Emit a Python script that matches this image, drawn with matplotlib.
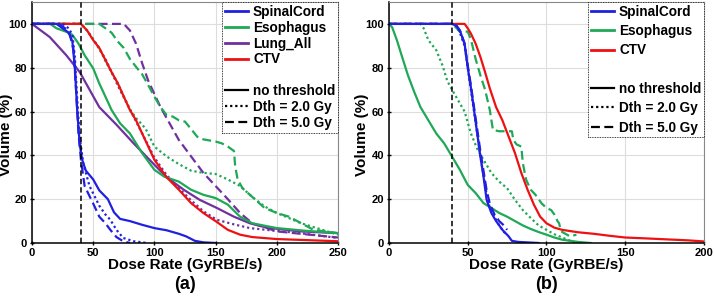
import numpy as np
from matplotlib import pyplot as plt
from matplotlib.lines import Line2D

plt.rcParams['font.family'] = ['Liberation Sans', 'DejaVu Sans']
plt.rcParams['font.weight'] = 'bold'

BLUE = '#2020e0'
GREEN = '#1fa855'
PURPLE = '#7030a0'
RED = '#ee1111'

# ---- panel (a) ----
a_cord_x = [0, 20, 25, 30, 33, 35, 37, 39, 41, 44, 50, 55, 62, 67, 72, 80, 90, 100, 110, 120, 126, 133, 140, 150]
a_cord_y = [100, 100, 98, 96, 92, 80, 60, 45, 38, 33, 29, 24, 20, 14, 11, 10, 8.3, 6.8, 5.8, 4.2, 3, 1, 0.3, 0]
a_cord2_x = [0, 25, 30, 33, 35, 37, 39, 42, 47, 55, 60, 64, 69, 74.5, 83, 94]
a_cord2_y = [100, 100, 98, 95, 85, 65, 48, 36, 26, 17, 13, 10.6, 6, 2.3, 0.8, 0]
a_cord5_x = [0, 22, 27, 31, 34, 36, 38, 40, 43, 50, 55, 60, 64, 69, 74.5, 80]
a_cord5_y = [100, 100, 98, 95, 88, 70, 50, 38, 26, 18, 12, 9, 6, 2.7, 0.8, 0]

a_eso_x = [0, 15, 20, 28, 33, 38, 43, 50, 55, 60, 65, 72, 80, 90, 100, 108, 120, 130, 140, 150, 160, 170, 180, 200, 225, 250]
a_eso_y = [100, 100, 98, 96.4, 95, 91, 85.7, 79.7, 72.8, 66.8, 60.7, 54.6, 50, 41, 33.4, 30.3, 28, 24.3, 22, 20.5, 17.5, 12, 9, 6.8, 5.5, 4.5]
a_eso2_x = [0, 40, 45, 50, 55, 60, 65, 70, 75, 80, 85, 90, 93, 100, 110, 120, 130, 140, 150, 160, 170, 180, 190, 200, 220, 250]
a_eso2_y = [100, 100, 97, 93, 89, 83, 78, 73, 67, 61, 57, 54, 52, 44, 39.5, 36, 33, 32, 31.5, 29, 26, 21, 16.7, 13.7, 9, 3.8]
a_eso5_x = [0, 55, 60, 65, 70, 75, 80, 85, 90, 95, 100, 105, 110, 115, 120, 125, 130, 135, 140, 150, 155, 160, 165, 166, 168, 172, 180, 190, 200, 210, 220, 230, 250]
a_eso5_y = [100, 100, 98, 96, 92, 89, 84, 80.4, 77, 72, 66.8, 62, 58.4, 57.7, 56, 55.4, 52, 48.5, 47.3, 46.3, 45.5, 44, 42, 35, 29, 25, 21, 16, 13.7, 12, 9, 6, 4.5]

a_lung_x = [0, 14.5, 28, 39, 55, 69, 83, 96, 110, 124, 137, 151, 165, 178, 192, 219, 250]
a_lung_y = [100, 94, 85.7, 78, 62, 54, 45.5, 38, 30, 24.3, 19.7, 16, 12, 9, 7, 5.3, 4.5]
a_lung2_x = [0, 40, 45, 50, 60, 70, 80, 90, 100, 110, 120, 130, 140, 151, 165, 178, 200, 219, 250]
a_lung2_y = [100, 100, 97, 93, 84, 72, 61, 50, 39, 31, 25, 19.5, 14.5, 10.6, 8.5, 6.8, 5.5, 4.5, 2.3]
a_lung5_x = [0, 75, 80, 85, 90, 95, 100, 105, 110, 120, 130, 140, 150, 160, 170, 180, 200, 250]
a_lung5_y = [100, 100, 97, 91, 82, 74, 68, 62, 57, 47, 39.5, 32, 26, 20, 13.7, 9, 5.3, 2.5]

a_ctv_x = [0, 40, 45, 50, 55, 60, 65, 70, 75, 80, 85, 90, 95, 100, 105, 110, 120, 130, 140, 150, 160, 170, 180, 200, 250]
a_ctv_y = [100, 100, 97, 92.6, 89, 83.5, 78, 73, 66.8, 60.7, 56, 50, 44, 38, 34, 30, 24.3, 18.2, 13.7, 10, 6, 3.8, 2.7, 1.8, 0.8]

# ---- panel (b) ----
b_cord_x = [0, 40, 43, 45, 48, 50, 52, 54, 56, 58, 60, 62, 65, 68, 72, 76, 78, 82, 95]
b_cord_y = [100, 100, 99, 97, 91, 80, 71, 60.7, 50, 39.5, 30.3, 19.7, 13.7, 10, 6, 3, 1, 0.5, 0]
b_cord2_x = [0, 40, 43, 45, 48, 50, 52, 54, 56, 58, 60, 62, 64, 67, 70, 73, 75]
b_cord2_y = [100, 100, 99, 96, 90, 80, 70, 60, 50, 40, 31, 22, 16, 12, 8, 5, 4]
b_cord5_x = [0, 40, 43, 45, 48, 50, 52, 54, 56, 58, 60, 62, 64, 67, 70, 73, 75]
b_cord5_y = [100, 100, 99, 97, 91, 81, 72, 62, 52, 42, 33, 24, 18, 13, 10, 8, 6]

b_eso_x = [0, 2, 5, 8, 12, 16, 20, 25, 30, 35, 40, 45, 50, 55, 60, 65, 70, 75, 80, 85, 90, 95, 100, 105, 110, 120, 128]
b_eso_y = [100, 98.5, 92.6, 85.7, 76.6, 69, 62, 56, 50, 45.5, 39.5, 33.4, 26.5, 22.8, 18.2, 16, 13.7, 12, 10, 8, 6.4, 5, 3.8, 2.5, 1.5, 0.5, 0]
b_eso2_x = [0, 20, 22, 25, 30, 34, 37, 40, 44, 48, 52, 56, 60, 65, 70, 75, 80, 85, 90, 95, 100, 105, 110, 115, 118]
b_eso2_y = [100, 100, 98, 92.6, 88, 81, 74, 70, 65, 60, 50, 43, 38, 32, 28, 25, 19.7, 15, 11.4, 8, 6, 4, 2.5, 1, 0]
b_eso5_x = [0, 40, 43, 45, 50, 52, 55, 58, 61, 64, 66, 70, 75, 78, 79, 81, 84, 85, 87, 90, 93, 97, 100, 103, 105, 107, 108, 109, 110, 115, 119]
b_eso5_y = [100, 100, 98, 96.4, 96.5, 93, 84, 76.6, 70, 60.7, 51.6, 51, 51, 51, 47, 45, 44, 36.4, 29, 24.3, 22, 18, 16, 15, 13, 10, 9, 6, 5, 3, 3.8]

b_ctv_x = [0, 48, 50, 52, 55, 58, 61, 64, 68, 72, 76, 80, 84, 88, 92, 96, 100, 105, 110, 120, 130, 140, 150, 160, 175, 190, 200]
b_ctv_y = [100, 100, 98, 95.6, 91, 85, 78, 70.6, 62, 56, 48.5, 41, 32, 24.3, 17.5, 12, 9, 7, 6, 4.9, 4.2, 3.3, 2.5, 2.2, 1.7, 1.2, 0.7]

xticks_a = [0, 50, 100, 150, 200, 250]
xticks_b = [0, 50, 100, 150, 200]
yticks = [0, 20, 40, 60, 80, 100]
threshold_rate = 40

fig = plt.figure(figsize=(7.14, 3.01), dpi=100)
ax_a = fig.add_axes([0.0448, 0.1927, 0.4286, 0.8007])
ax_b = fig.add_axes([0.5448, 0.1927, 0.4412, 0.8007])

lw = 1.6
dot = (0, (1, 1.3))
dash = (0, (4, 2))


def style_axes(ax, xmax, xticks, label):
    ax.set_xlim(0, xmax)
    ax.set_ylim(0, 110)
    ax.set_xticks(xticks)
    ax.set_yticks(yticks)
    ax.grid(True, color='#dddddd', lw=0.8)
    ax.set_axisbelow(True)
    ax.tick_params(labelsize=8, length=3, width=1, direction='inout', pad=2)
    for lab in ax.get_xticklabels() + ax.get_yticklabels():
        lab.set_fontweight('bold')
    for s in ['left', 'bottom']:
        ax.spines[s].set_color('black')
        ax.spines[s].set_linewidth(1.1)
    for s in ['top', 'right']:
        ax.spines[s].set_color('#888888')
        ax.spines[s].set_linewidth(0.8)
    ax.set_xlabel('Dose Rate (GyRBE/s)', fontsize=11, fontweight='bold', labelpad=0)
    ax.set_ylabel('Volume (%)', fontsize=11, fontweight='bold')
    ax.yaxis.set_label_coords(-0.062, 0.45)
    ax.axvline(threshold_rate, color='black', lw=1.1, ls=(0, (3.5, 2)), zorder=5)
    ax.text(0.5, -0.135, label, transform=ax.transAxes, ha='center', va='top',
            fontsize=13, fontweight='bold')


def add_legend(ax, names, colors, spacing):
    handles = [Line2D([], [], color=c, lw=2) for c in colors]
    handles.append(Line2D([], [], color='none'))
    handles += [Line2D([], [], color='black', lw=1.6),
                Line2D([], [], color='black', lw=1.6, ls=dot),
                Line2D([], [], color='black', lw=1.6, ls=dash)]
    labels = list(names) + ['', 'no threshold', 'Dth = 2.0 Gy', 'Dth = 5.0 Gy']
    leg = ax.legend(handles, labels, loc='upper right',
                    prop={'weight': 'bold', 'size': 9.8}, frameon=True,
                    fancybox=False, borderaxespad=0, handlelength=1.65,
                    handletextpad=0.4, labelspacing=spacing, borderpad=0.2)
    fr = leg.get_frame()
    fr.set_edgecolor('black')
    fr.set_linewidth(0.6)
    fr.set_linestyle((0, (1, 1)))
    fr.set_alpha(1)


# panel (a)
ax = ax_a
ax.plot(a_lung5_x, a_lung5_y, color=PURPLE, lw=lw, ls=dash)
ax.plot(a_lung2_x, a_lung2_y, color=PURPLE, lw=lw, ls=dot)
ax.plot(a_lung_x, a_lung_y, color=PURPLE, lw=lw)
ax.plot(a_eso5_x, a_eso5_y, color=GREEN, lw=lw, ls=dash)
ax.plot(a_eso2_x, a_eso2_y, color=GREEN, lw=lw, ls=dot)
ax.plot(a_eso_x, a_eso_y, color=GREEN, lw=lw)
ax.plot(a_ctv_x, a_ctv_y, color=RED, lw=lw)
ax.plot(a_cord5_x, a_cord5_y, color=BLUE, lw=lw, ls=dash)
ax.plot(a_cord2_x, a_cord2_y, color=BLUE, lw=lw, ls=dot)
ax.plot(a_cord_x, a_cord_y, color=BLUE, lw=lw)
style_axes(ax, 250, xticks_a, '(a)')
add_legend(ax, ['SpinalCord', 'Esophagus', 'Lung_All', 'CTV'], [BLUE, GREEN, PURPLE, RED], 0.14)

# panel (b)
ax = ax_b
ax.plot(b_eso5_x, b_eso5_y, color=GREEN, lw=lw, ls=dash)
ax.plot(b_eso2_x, b_eso2_y, color=GREEN, lw=lw, ls=dot)
ax.plot(b_eso_x, b_eso_y, color=GREEN, lw=lw)
ax.plot(b_ctv_x, b_ctv_y, color=RED, lw=lw)
ax.plot(b_cord5_x, b_cord5_y, color=BLUE, lw=lw, ls=dash)
ax.plot(b_cord2_x, b_cord2_y, color=BLUE, lw=lw, ls=dot)
ax.plot(b_cord_x, b_cord_y, color=BLUE, lw=lw)
style_axes(ax, 200, xticks_b, '(b)')
add_legend(ax, ['SpinalCord', 'Esophagus', 'CTV'], [BLUE, GREEN, RED], 0.39)

fig.savefig('out.png', dpi=100)
